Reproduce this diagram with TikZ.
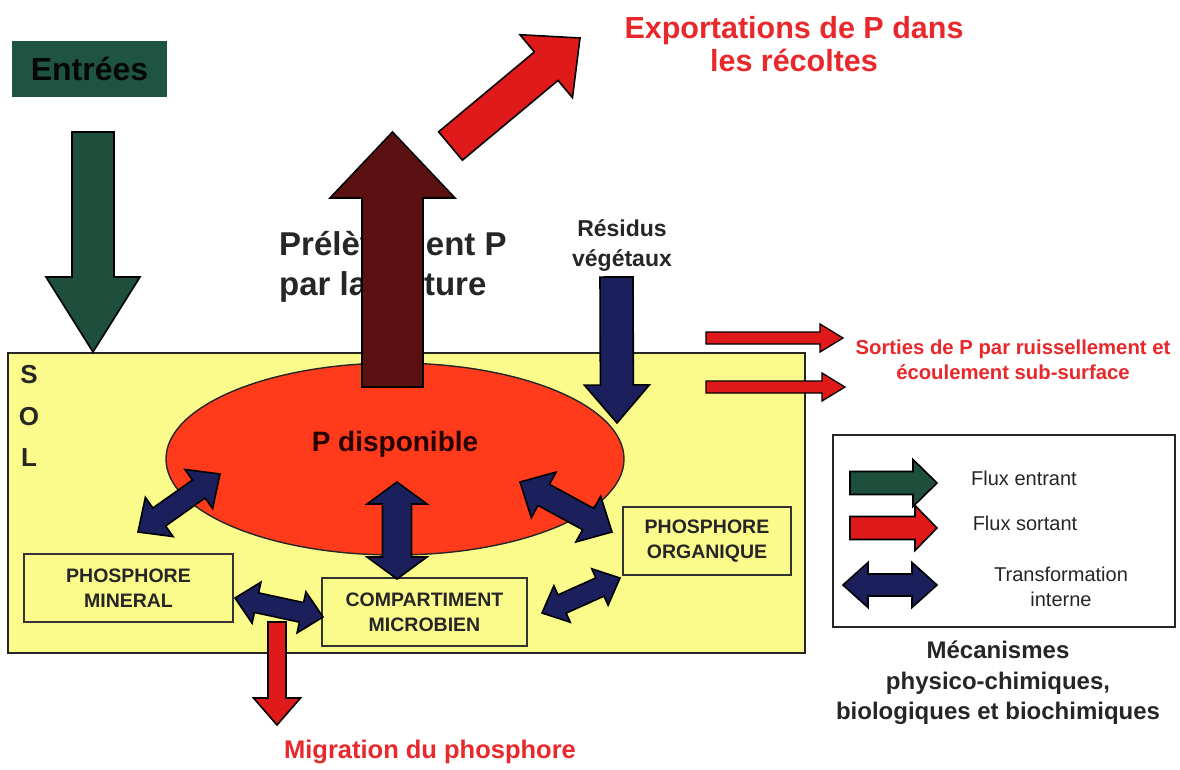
\documentclass[tikz,border=0pt]{standalone}
\usepackage{fontspec}
\setmainfont{Liberation Sans}
\usetikzlibrary{calc,shapes.geometric}
\definecolor{soilyellow}{HTML}{FBFB8C}
\definecolor{pred}{HTML}{FF3B1C}
\definecolor{arrred}{HTML}{E01A1A}
\definecolor{navy}{HTML}{1B1F5C}
\definecolor{maroon}{HTML}{5B1111}
\definecolor{dgreen}{HTML}{1D4F3C}
\definecolor{entgreen}{HTML}{1F5443}
\definecolor{txtred}{HTML}{E8282A}
\definecolor{txtdark}{HTML}{262626}

% single block arrow: style, from, to, shaft half width, head half width, head length
\newcommand\sarrow[6]{%
  \coordinate (hb) at ($(#3)!#6!(#2)$);
  \draw[#1] ($(#2)!#4!90:(#3)$) -- ($(hb)!#4!90:(#3)$) -- ($(hb)!#5!90:(#3)$) -- (#3)
    -- ($(hb)!#5!-90:(#3)$) -- ($(hb)!#4!-90:(#3)$) -- ($(#2)!#4!-90:(#3)$) -- cycle;}
% double block arrow
\newcommand\darrow[6]{%
  \coordinate (ha) at ($(#2)!#6!(#3)$);
  \coordinate (hb) at ($(#3)!#6!(#2)$);
  \draw[#1] (#2) -- ($(ha)!#5!90:(#3)$) -- ($(ha)!#4!90:(#3)$) -- ($(hb)!#4!90:(#3)$)
    -- ($(hb)!#5!90:(#3)$) -- (#3) -- ($(hb)!#5!-90:(#3)$) -- ($(hb)!#4!-90:(#3)$)
    -- ($(ha)!#4!-90:(#3)$) -- ($(ha)!#5!-90:(#3)$) -- cycle;}

\tikzset{
  blk/.style={draw=black, line width=1.6pt, line join=miter},
  boxnode/.style={draw=black!80, line width=1.8pt, inner sep=0pt, align=center, text=txtdark,
    font=\fontsize{19.5pt}{25pt}\selectfont\bfseries},
  txt/.style={inner sep=0pt, align=center},
  legtxt/.style={txt, text=txtdark, font=\fontsize{20pt}{25pt}\selectfont},
}

\begin{document}
\begin{tikzpicture}[x=1pt,y=-1pt]
\useasboundingbox[fill=white] (0,0) rectangle (1180,769);

% soil and available P
\draw[fill=soilyellow, draw=black!85, line width=1.8pt] (8,353) rectangle (805,653);
\node[txt, text=txtdark, font=\fontsize{26pt}{41.5pt}\selectfont\bfseries] (sol) at (29,416) {S\\O\\L};
\node[ellipse, draw=black!85, line width=1.4pt, fill=pred, minimum width=458pt, minimum height=192pt, inner sep=0pt] (pdisp) at (395,459) {};
\node[txt, text=black!85!red, font=\fontsize{28pt}{30pt}\selectfont\bfseries] (pdtxt) at (395,444) {P disponible};

% compartments
\node[boxnode, minimum width=209pt, minimum height=68pt] (pmin) at (128.5,588) {PHOSPHORE\\MINERAL};
\node[boxnode, minimum width=205pt, minimum height=68pt] (comp) at (424.5,612) {COMPARTIMENT\\MICROBIEN};
\node[boxnode, minimum width=168pt, minimum height=68pt] (porg) at (707,541) {PHOSPHORE\\ORGANIQUE};

% Entrees
\node[fill=entgreen, minimum width=155pt, minimum height=56pt, inner sep=0pt, text=black!90!entgreen,
  font=\fontsize{32pt}{34pt}\selectfont\bfseries] (ent) at (89.5,69) {Entrées};

% texts
\node[txt, anchor=west, align=left, text=txtdark, font=\fontsize{33pt}{40pt}\selectfont\bfseries] (prel) at (279,267) {Prélèvement P\\par la culture};
\node[txt, text=txtred, font=\fontsize{30.5pt}{33pt}\selectfont\bfseries] (export) at (794,44) {Exportations de P dans\\les récoltes};
\node[txt, text=txtdark, font=\fontsize{23pt}{30pt}\selectfont\bfseries] (resid) at (622,245) {Résidus\\végétaux};
\node[txt, text=txtred, font=\fontsize{20.3pt}{25pt}\selectfont\bfseries] (sorties) at (1013,360) {Sorties de P par ruissellement et\\écoulement sub-surface};
\node[txt, text=txtred, font=\fontsize{25.5pt}{27pt}\selectfont\bfseries] (migr) at (430,752) {Migration du phosphore};

% legend
\node[draw=black!85, line width=1.6pt, minimum width=342pt, minimum height=192pt, inner sep=0pt] (legend) at (1004,531) {};
\node[legtxt] (lin) at (1024,478) {Flux entrant};
\node[legtxt] (lout) at (1025,523) {Flux sortant};
\node[legtxt] (ltr) at (1061,587) {Transformation\\interne};
\node[txt, text=txtdark, font=\fontsize{24pt}{30.5pt}\selectfont\bfseries] (meca) at (998,683) {Mécanismes\\physico-chimiques,\\biologiques et biochimiques};

% arrow end points
\coordinate (g0) at (93,132);   \coordinate (g1) at (93,352);
\coordinate (m0) at (392.5,387); \coordinate (m1) at (392.5,132);
\coordinate (e0) at (450.5,146); \coordinate (e1) at (580,38);
\coordinate (r0) at (616.5,277); \coordinate (r1) at (617,423);
\coordinate (s0) at (706,338);  \coordinate (s1) at (843,338);
\coordinate (t0) at (706,387);  \coordinate (t1) at (845,387);
\coordinate (u0) at (277,622);  \coordinate (u1) at (277,725);
\coordinate (a1) at (138,532);  \coordinate (a2) at (220,474);
\coordinate (b1) at (397,482);  \coordinate (b2) at (397,579);
\coordinate (c1) at (520,482);  \coordinate (c2) at (612,532);
\coordinate (d1) at (235,598);  \coordinate (d2) at (323,617);
\coordinate (f1) at (542,613);  \coordinate (f2) at (620,578);
\coordinate (lg0) at (850,483); \coordinate (lg1) at (937,483);
\coordinate (lr0) at (850,528); \coordinate (lr1) at (937,528);
\coordinate (ln0) at (843,585); \coordinate (ln1) at (937,585);

% flux arrows
\sarrow{blk, fill=dgreen}{g0}{g1}{21pt}{47pt}{75pt}
\sarrow{blk, fill=maroon}{m0}{m1}{30.5pt}{62.5pt}{66pt}
\sarrow{blk, fill=arrred}{e0}{e1}{18.5pt}{41pt}{44pt}
\sarrow{blk, fill=navy}{r0}{r1}{16.5pt}{32.5pt}{38pt}
\sarrow{blk, fill=arrred, line width=1.3pt}{s0}{s1}{6pt}{14pt}{23pt}
\sarrow{blk, fill=arrred, line width=1.3pt}{t0}{t1}{6pt}{14pt}{23pt}
\sarrow{blk, fill=arrred}{u0}{u1}{9pt}{23.5pt}{27pt}

% internal transformations
\darrow{blk, fill=navy}{a1}{a2}{11pt}{24pt}{26pt}
\darrow{blk, fill=navy}{b1}{b2}{14.5pt}{30pt}{22pt}
\darrow{blk, fill=navy}{c1}{c2}{12pt}{26pt}{27pt}
\darrow{blk, fill=navy}{d1}{d2}{10pt}{21pt}{22pt}
\darrow{blk, fill=navy}{f1}{f2}{10pt}{20pt}{22pt}

% legend arrows
\sarrow{blk, fill=dgreen}{lg0}{lg1}{11.5pt}{23.5pt}{24pt}
\sarrow{blk, fill=arrred}{lr0}{lr1}{11.5pt}{22.5pt}{22pt}
\darrow{blk, fill=navy}{ln0}{ln1}{11pt}{22.5pt}{25pt}
\end{tikzpicture}
\end{document}
